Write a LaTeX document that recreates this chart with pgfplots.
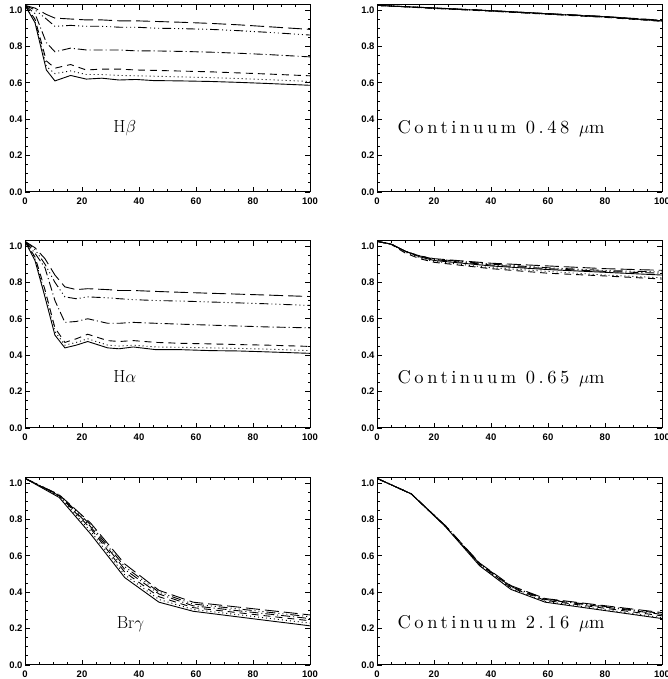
\documentclass[border=0pt]{standalone}
\usepackage{fontspec}
\usepackage{pgfplots}
\usepackage{pgfplotstable}
\pgfplotsset{compat=1.18}

\newfontfamily\ticksans{Liberation Sans}
\newfontfamily\widerm[Extension=.otf, LetterSpace=19]{lmroman10-regular}
\newcommand\tickfont{\ticksans\bfseries\fontsize{9.5}{9.5}\selectfont}
\newcommand\labfont{\fontsize{17.5}{17.5}\selectfont}
\newcommand\widefont{\widerm\fontsize{18.5}{18.5}\selectfont}

% columns: sol dot dsh dd ddd ld  (six model curves per panel)
\pgfplotstableread{
x    sol   dot   dsh   dd    ddd   ld
0    1.025 1.025 1.025 1.025 1.025 1.025
3.5  0.93  0.94  0.95  0.98  1.00  1.01
7.5  0.67  0.69  0.72  0.82  0.95  0.975
10.5 0.61  0.65  0.68  0.77  0.91  0.955
16   0.64  0.665 0.70  0.79  0.915 0.95
21.5 0.62  0.645 0.67  0.78  0.91  0.945
27   0.625 0.645 0.675 0.78  0.91  0.945
33   0.615 0.64  0.675 0.78  0.905 0.94
39   0.618 0.638 0.67  0.775 0.905 0.94
45   0.612 0.636 0.668 0.775 0.90  0.937
55   0.61  0.632 0.664 0.772 0.897 0.932
65   0.607 0.628 0.66  0.768 0.893 0.926
75   0.602 0.623 0.654 0.762 0.886 0.918
85   0.596 0.617 0.648 0.755 0.877 0.908
100  0.586 0.607 0.638 0.742 0.862 0.893
}\hbeta

\pgfplotstableread{
x    sol   dot   dsh   dd    ddd   ld
0    1.025 1.025 1.025 1.025 1.025 1.025
3.5  0.92  0.93  0.94  0.96  0.98  0.99
7    0.72  0.74  0.76  0.88  0.90  0.93
10.5 0.51  0.53  0.55  0.70  0.80  0.84
14   0.44  0.455 0.47  0.58  0.72  0.775
18   0.455 0.47  0.49  0.585 0.71  0.76
22   0.475 0.49  0.515 0.60  0.72  0.765
29   0.44  0.455 0.48  0.575 0.715 0.76
33   0.435 0.45  0.475 0.575 0.71  0.755
38   0.445 0.455 0.48  0.58  0.705 0.755
46   0.43  0.445 0.47  0.575 0.70  0.75
55   0.43  0.443 0.465 0.57  0.697 0.745
65   0.425 0.44  0.462 0.565 0.692 0.74
75   0.423 0.437 0.458 0.56  0.687 0.735
85   0.418 0.433 0.455 0.555 0.682 0.73
100  0.41  0.425 0.448 0.55  0.673 0.722
}\halpha

\pgfplotstableread{
x    sol   dot   dsh   dd    ddd   ld
0    1.025 1.025 1.025 1.025 1.025 1.025
12   0.92  0.925 0.93  0.93  0.935 0.935
23   0.72  0.735 0.75  0.76  0.77  0.78
35   0.48  0.495 0.51  0.525 0.54  0.555
47   0.345 0.36  0.375 0.39  0.40  0.41
59   0.295 0.305 0.315 0.325 0.335 0.345
100  0.215 0.23  0.243 0.255 0.265 0.275
}\brgamma

\pgfplotstableread{
x    sol   dot   dsh   dd    ddd   ld
0    1.025 1.025 1.025 1.025 1.025 1.025
20   1.010 1.009 1.008 1.010 1.011 1.011
40   0.995 0.994 0.993 0.995 0.996 0.996
60   0.978 0.977 0.976 0.978 0.979 0.980
80   0.962 0.960 0.959 0.962 0.963 0.964
100  0.940 0.938 0.937 0.940 0.942 0.943
}\contA

\pgfplotstableread{
x    sol   dot   dsh   dd    ddd   ld
0    1.025 1.025 1.025 1.025 1.025 1.025
5    1.01  1.01  1.008 1.01  1.01  1.01
10   0.97  0.965 0.96  0.97  0.97  0.97
15   0.94  0.935 0.93  0.945 0.945 0.945
20   0.92  0.915 0.91  0.925 0.928 0.93
40   0.89  0.88  0.875 0.895 0.90  0.905
60   0.87  0.86  0.85  0.875 0.88  0.89
80   0.855 0.84  0.835 0.86  0.865 0.875
100  0.84  0.825 0.818 0.85  0.857 0.866
}\contB

\pgfplotstableread{
x    sol   dot   dsh   dd    ddd   ld
0    1.025 1.025 1.025 1.025 1.025 1.025
12   0.94  0.94  0.94  0.94  0.94  0.94
24   0.76  0.76  0.762 0.765 0.765 0.765
36   0.545 0.55  0.553 0.556 0.558 0.56
47   0.415 0.42  0.425 0.43  0.433 0.436
59   0.345 0.35  0.355 0.36  0.362 0.365
100  0.255 0.26  0.27  0.278 0.283 0.288
}\contC

\tikzset{
  c1/.style={black, line width=0.9pt, solid},
  c2/.style={black, line width=0.9pt, dash pattern=on 1pt off 3pt},
  c3/.style={black, line width=0.9pt, dash pattern=on 7pt off 5pt},
  c4/.style={black, line width=0.9pt, dash pattern=on 9pt off 3pt on 1pt off 3pt},
  c5/.style={black, line width=0.9pt, dash pattern=on 9pt off 3pt on 1pt off 3pt on 1pt off 3pt on 1pt off 3pt},
  c6/.style={black, line width=0.9pt, dash pattern=on 14pt off 5pt},
}

\pgfplotsset{
  panel/.style={
    scale only axis, width=285pt, height=187pt, anchor=south west,
    xmin=0, xmax=100, ymin=0, ymax=1.027,
    xtick={0,20,40,60,80,100}, ytick={0,0.2,0.4,0.6,0.8,1.0},
    minor x tick num=3, minor y tick num=3,
    tick align=inside, major tick length=5pt, minor tick length=2.5pt,
    axis line style={line width=1pt},
    every tick/.style={black, line width=0.8pt},
    ticklabel style={font=\tickfont},
    /pgf/number format/assume math mode=true,
    xticklabel style={yshift=-2.5pt},
    yticklabel style={xshift=1pt,
      /pgf/number format/fixed,
      /pgf/number format/fixed zerofill,
      /pgf/number format/precision=1},
  },
}

\newcommand\curves[1]{%
  \addplot[c1] table[x=x, y=sol] {#1};
  \addplot[c2] table[x=x, y=dot] {#1};
  \addplot[c3] table[x=x, y=dsh] {#1};
  \addplot[c4] table[x=x, y=dd] {#1};
  \addplot[c5] table[x=x, y=ddd] {#1};
  \addplot[c6] table[x=x, y=ld] {#1};
}

\begin{document}
\begin{tikzpicture}
\useasboundingbox (0pt,0pt) rectangle (668pt,679pt);

\begin{axis}[panel, at={(25pt,487pt)}]
  \curves{\hbeta}
  \node[font=\labfont] at (axis cs:35,0.35) {H$\beta$};
\end{axis}

\begin{axis}[panel, at={(377pt,487pt)}]
  \curves{\contA}
  \node[font=\widefont, anchor=west] at (axis cs:6,0.35) {Continuum 0.48 $\mu$m};
\end{axis}

\begin{axis}[panel, at={(25pt,251pt)}]
  \curves{\halpha}
  \node[font=\labfont] at (axis cs:35,0.28) {H$\alpha$};
\end{axis}

\begin{axis}[panel, at={(377pt,251pt)}]
  \curves{\contB}
  \node[font=\widefont, anchor=west] at (axis cs:6,0.27) {Continuum 0.65 $\mu$m};
\end{axis}

\begin{axis}[panel, at={(25pt,14pt)}]
  \curves{\brgamma}
  \node[font=\labfont] at (axis cs:37,0.225) {Br$\gamma$};
\end{axis}

\begin{axis}[panel, at={(377pt,14pt)}]
  \curves{\contC}
  \node[font=\widefont, anchor=west] at (axis cs:6,0.225) {Continuum 2.16 $\mu$m};
\end{axis}
\end{tikzpicture}
\end{document}
